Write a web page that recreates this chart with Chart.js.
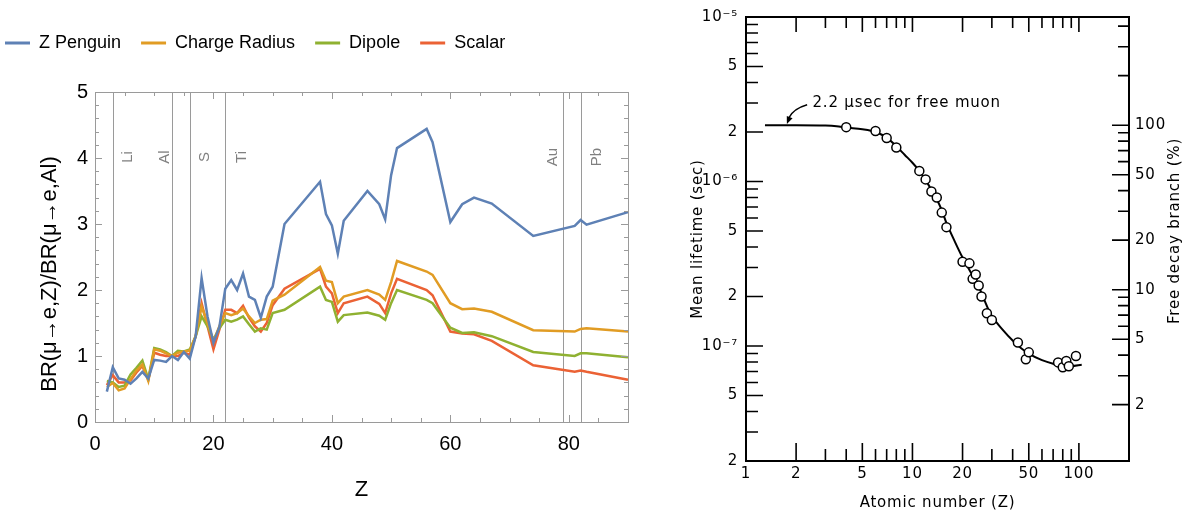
<!DOCTYPE html>
<html><head><meta charset="utf-8">
<script src="https://cdn.jsdelivr.net/npm/chart.js@4.4.1/dist/chart.umd.min.js"></script>
<style>
html,body{margin:0;padding:0;background:#fff;width:1183px;height:513px;overflow:hidden;position:relative}
#w1{position:absolute;left:-15px;top:0;width:665px;height:513px}
#w2{position:absolute;left:680px;top:0;width:503px;height:513px}
</style></head><body>
<div id="w1"><canvas id="c1"></canvas></div>
<div id="w2"><canvas id="c2"></canvas></div>
<script>
// ---------- Left chart data ----------
const zValues = [2,3,4,5,6,7,8,9,10,11,12,13,14,15,16,17,18,19,20,21,22,23,24,25,26,27,28,29,30,32,38,39,40,41,42,46,48,49,50,51,56,57,60,62,64,67,74,81,82,83,90];
const zPenguin = [0.46,0.83,0.66,0.64,0.58,0.66,0.76,0.66,0.94,0.93,0.91,1.0,0.94,1.06,0.96,1.3,2.18,1.6,1.2,1.44,2.02,2.15,2.0,2.25,1.9,1.85,1.58,1.9,2.05,3.0,3.64,3.15,2.98,2.55,3.05,3.5,3.3,3.07,3.74,4.15,4.44,4.24,3.03,3.3,3.4,3.31,2.82,2.97,3.06,2.99,3.18];
const chargeRadius = [0.53,0.59,0.48,0.51,0.65,0.78,0.87,0.62,1.1,1.08,1.04,1.0,1.05,1.07,1.08,1.3,1.75,1.5,1.22,1.45,1.65,1.62,1.65,1.72,1.6,1.5,1.55,1.56,1.84,1.93,2.35,2.14,2.12,1.8,1.9,2.0,1.93,1.85,2.12,2.44,2.28,2.23,1.8,1.71,1.72,1.67,1.39,1.37,1.41,1.42,1.37];
const dipole = [0.62,0.6,0.53,0.55,0.72,0.82,0.93,0.65,1.12,1.1,1.06,1.0,1.08,1.07,1.1,1.3,1.6,1.45,1.25,1.42,1.55,1.52,1.55,1.6,1.48,1.37,1.42,1.4,1.65,1.7,2.05,1.85,1.82,1.52,1.62,1.66,1.61,1.55,1.8,2.0,1.85,1.8,1.43,1.35,1.36,1.3,1.06,1.0,1.04,1.04,0.98];
const scalar = [0.56,0.71,0.6,0.6,0.63,0.75,0.85,0.64,1.05,1.02,1.0,1.0,1.0,1.05,1.02,1.3,1.8,1.45,1.1,1.4,1.7,1.7,1.65,1.76,1.58,1.45,1.37,1.5,1.77,2.02,2.32,2.05,1.95,1.65,1.8,1.9,1.79,1.65,1.95,2.17,2.0,1.92,1.37,1.34,1.33,1.23,0.86,0.76,0.78,0.76,0.64];
const seriesNames = ['Z Penguin','Charge Radius','Dipole','Scalar'];
const elementNames = ['Li','Al','S','Ti','Au','Pb'];
const elementZ = [3,13,16,22,79,82];
const leftXTicks = [0,20,40,60,80];
const leftYTicks = [0,1,2,3,4,5];
const leftYTitle = 'BR(\u03BC\u2192e,Z)/BR(\u03BC\u2192e,Al)';

// ---------- Right chart data ----------
const muZ = [4,6,7,8,11,12,13,14,15,16,20,22,23,24,25,26,28,30,43,48,50,75,80,84,87,96];
const muLifetime = [2.14e-6,2.03e-6,1.84e-6,1.61e-6,1.16e-6,1.03e-6,0.87e-6,0.80e-6,0.647e-6,0.528e-6,0.325e-6,0.318e-6,0.256e-6,0.272e-6,0.233e-6,0.200e-6,0.158e-6,0.144e-6,0.105e-6,0.083e-6,0.0915e-6,0.0795e-6,0.0743e-6,0.081e-6,0.0753e-6,0.087e-6];
const fitZ = [1.3,2,3,3.5,4,5,6,7,8,9,10,11,12,13,14,15,16,18,20,22,25,28,30,35,40,45,50,60,70,80,90,104];
const fitLifetime = [2.2e-6,2.2e-6,2.19e-6,2.17e-6,2.13e-6,2.08e-6,2.0e-6,1.85e-6,1.64e-6,1.45e-6,1.3e-6,1.16e-6,1.02e-6,0.89e-6,0.78e-6,0.67e-6,0.56e-6,0.43e-6,0.345e-6,0.29e-6,0.23e-6,0.175e-6,0.152e-6,0.125e-6,0.108e-6,0.097e-6,0.09e-6,0.082e-6,0.078e-6,0.076e-6,0.0755e-6,0.077e-6];
const freeMuonLifetime = 2.2e-6;
const atomicTicks = [1,2,5,10,20,50,100];
const lifetimeTicks = [2e-8,5e-8,1e-7,2e-7,5e-7,1e-6,2e-6,5e-6,1e-5];
const lifetimeTickLabels = ['2','5','10\u207B\u2077','2','5','10\u207B\u2076','2','5','10\u207B\u2075'];
const branchTicks = [2,5,10,20,50,100];
const annotationText = '2.2 \u03BCsec for free muon';
const annotationTextAt = [2.51, 3.0e-6];
const arrowFrom = [2.33, 2.93e-6];
const arrowTip = [1.76, 2.24e-6];

// ---------- Left chart ----------
const LF = 'Liberation Sans, Arial, sans-serif';
const colors = ['#5E81B5','#E19C24','#8FB131','#EB6235'];
const seriesValues = [zPenguin, chargeRadius, dipole, scalar];
const elementLabelOffset = [14,-8,14,16,-11,15];

const leftPlugin = {
  id: 'leftDeco',
  beforeDatasetsDraw(chart) {
    const {ctx, chartArea: a, scales: {x}} = chart;
    ctx.save();
    ctx.strokeStyle = '#9a9a9a'; ctx.lineWidth = 1;
    ctx.fillStyle = '#808080';
    ctx.font = '15px ' + LF;
    ctx.textAlign = 'center'; ctx.textBaseline = 'middle';
    elementZ.forEach((z, i) => {
      const px = Math.round(x.getPixelForValue(z)) + 0.5;
      ctx.beginPath(); ctx.moveTo(px, a.top); ctx.lineTo(px, a.bottom); ctx.stroke();
      ctx.save();
      ctx.translate(px + elementLabelOffset[i], a.top + 65);
      ctx.rotate(-Math.PI / 2);
      ctx.fillText(elementNames[i], 0, 0);
      ctx.restore();
    });
    ctx.restore();
  },
  afterDatasetsDraw(chart) {
    const {ctx, chartArea: a, scales: {x, y}} = chart;
    ctx.save();
    ctx.strokeStyle = '#9a9a9a'; ctx.lineWidth = 1;
    ctx.strokeRect(Math.round(a.left) + 0.5, Math.round(a.top) + 0.5, Math.round(a.right - a.left), Math.round(a.bottom - a.top));
    ctx.beginPath();
    for (let v = 0; v <= 90; v += 5) {
      const px = Math.round(x.getPixelForValue(v)) + 0.5;
      const L = v % 20 === 0 ? 7 : 4;
      ctx.moveTo(px, a.bottom); ctx.lineTo(px, a.bottom - L);
      ctx.moveTo(px, a.top); ctx.lineTo(px, a.top + L);
    }
    for (let k = 0; k <= 25; k++) {
      const v = k * 0.2;
      const py = Math.round(y.getPixelForValue(v)) + 0.5;
      const L = k % 5 === 0 ? 7 : 4;
      ctx.moveTo(a.left, py); ctx.lineTo(a.left + L, py);
      ctx.moveTo(a.right, py); ctx.lineTo(a.right - L, py);
    }
    ctx.stroke();
    ctx.restore();
  },
  afterDraw(chart) {
    const {ctx, chartArea: a} = chart;
    ctx.save();
    ctx.fillStyle = '#000';
    ctx.font = '22px ' + LF;
    ctx.textAlign = 'center'; ctx.textBaseline = 'middle';
    ctx.translate(65, (a.top + a.bottom) / 2 + 17);
    ctx.rotate(-Math.PI / 2);
    ctx.fillText(leftYTitle, 0, 0);
    ctx.restore();
  }
};

new Chart(document.getElementById('c1'), {
  type: 'line',
  data: {
    datasets: seriesNames.map((name, i) => ({
      label: name,
      data: zValues.map((z, j) => ({x: z, y: seriesValues[i][j]})),
      borderColor: colors[i], backgroundColor: colors[i],
      borderWidth: 2.5, pointRadius: 0, tension: 0, fill: false
    }))
  },
  options: {
    animation: false, responsive: true, maintainAspectRatio: false,
    layout: {padding: {top: 14, right: 22, left: 0, bottom: 0}},
    plugins: {
      tooltip: {enabled: false},
      legend: {
        display: true, position: 'top', align: 'start',
        labels: {
          boxWidth: 25, boxHeight: 3, padding: 20, color: '#000',
          font: {size: 18, family: LF},
          generateLabels: (ch) => ch.data.datasets.map((d, i) => ({
            text: d.label, fillStyle: d.borderColor, strokeStyle: d.borderColor,
            lineWidth: 0, hidden: false, datasetIndex: i, fontColor: '#000'
          }))
        }
      }
    },
    scales: {
      xTop: {
        type: 'linear', position: 'top', display: true,
        ticks: {display: false}, grid: {display: false, drawTicks: false}, border: {display: false},
        afterFit: s => { s.height = 30; }
      },
      x: {
        type: 'linear', min: 0, max: 90,
        afterBuildTicks: s => { s.ticks = leftXTicks.map(v => ({value: v})); },
        grid: {display: false, drawTicks: false}, border: {display: false},
        ticks: {color: '#000', font: {size: 20, family: LF}, padding: 10, maxRotation: 0, autoSkip: false},
        title: {display: true, text: 'Z', color: '#000', font: {size: 22, family: LF}, padding: {top: 0, bottom: 10}},
        afterFit: s => { s.height = 91; }
      },
      y: {
        type: 'linear', min: 0, max: 5,
        afterBuildTicks: s => { s.ticks = leftYTicks.map(v => ({value: v})); },
        grid: {display: false, drawTicks: false}, border: {display: false},
        ticks: {color: '#000', font: {size: 20, family: LF}, padding: 7, autoSkip: false},
        title: {display: false},
        afterFit: s => { s.width = 110; }
      }
    }
  },
  plugins: [leftPlugin]
});

// ---------- Right chart ----------
const RF = 'DejaVu Sans, sans-serif';
function logTicks(min, max) {
  const out = [];
  for (let e = Math.floor(Math.log10(min)); e <= Math.ceil(Math.log10(max)); e++) {
    for (let m = 1; m <= 9; m++) {
      const v = m * Math.pow(10, e);
      if (v >= min * 0.9999 && v <= max * 1.0001) out.push(v);
    }
  }
  return out;
}
function near(v, list) { return list.some(t => Math.abs(t - v) / t < 1e-6); }

const rightPlugin = {
  id: 'rightDeco',
  beforeDraw(chart) { chart.ctx.letterSpacing = '0.8px'; },
  afterDatasetsDraw(chart) {
    const {ctx, chartArea: a, scales: {x, y, y2}} = chart;
    ctx.save();
    ctx.strokeStyle = '#000'; ctx.lineWidth = 1.6;
    ctx.beginPath();
    logTicks(1, x.max).forEach(v => {
      const px = x.getPixelForValue(v);
      if (px <= a.left + 1 || px >= a.right - 1) return;
      const major = near(v, atomicTicks);
      ctx.moveTo(px, a.bottom); ctx.lineTo(px, a.bottom - (major ? 18 : 12));
      ctx.moveTo(px, a.top); ctx.lineTo(px, a.top + (major ? 15 : 11));
    });
    logTicks(y.min, y.max).forEach(v => {
      const py = y.getPixelForValue(v);
      if (py <= a.top + 1 || py >= a.bottom - 1) return;
      const major = near(v, lifetimeTicks);
      ctx.moveTo(a.left, py); ctx.lineTo(a.left + (major ? 17 : 12), py);
    });
    logTicks(2, y2.max).forEach(v => {
      const py = y2.getPixelForValue(v);
      if (py <= a.top + 1 || py >= a.bottom - 1) return;
      const major = near(v, branchTicks);
      ctx.moveTo(a.right, py); ctx.lineTo(a.right - (major ? 17 : 11), py);
    });
    ctx.stroke();
    ctx.lineWidth = 2;
    ctx.strokeRect(a.left, a.top, a.right - a.left, a.bottom - a.top);

    // annotation
    ctx.fillStyle = '#000';
    ctx.font = '15px ' + RF;
    ctx.textAlign = 'left'; ctx.textBaseline = 'middle';
    ctx.fillText(annotationText, x.getPixelForValue(annotationTextAt[0]), y.getPixelForValue(annotationTextAt[1]));
    const fx = x.getPixelForValue(arrowFrom[0]), fy = y.getPixelForValue(arrowFrom[1]);
    const tx = x.getPixelForValue(arrowTip[0]), ty = y.getPixelForValue(arrowTip[1]);
    ctx.lineWidth = 1.4;
    ctx.beginPath();
    ctx.moveTo(fx, fy);
    ctx.quadraticCurveTo(fx - 14, fy + 4, tx + 2, ty - 6);
    ctx.stroke();
    const ang = Math.atan2(ty - (fy + 4), tx - (fx - 14));
    ctx.beginPath();
    ctx.moveTo(tx, ty);
    ctx.lineTo(tx - 8 * Math.cos(ang - 0.4), ty - 8 * Math.sin(ang - 0.4));
    ctx.lineTo(tx - 8 * Math.cos(ang + 0.4), ty - 8 * Math.sin(ang + 0.4));
    ctx.closePath(); ctx.fill();

    // right axis title
    ctx.save();
    ctx.translate(y2.right - 8, (a.top + a.bottom) / 2 - 8);
    ctx.rotate(-Math.PI / 2);
    ctx.textAlign = 'center';
    ctx.fillText('Free decay branch (%)', 0, 0);
    ctx.restore();
    ctx.restore();
  }
};

new Chart(document.getElementById('c2'), {
  type: 'line',
  data: {
    datasets: [
      {
        label: 'Measured', data: muZ.map((z, i) => ({x: z, y: muLifetime[i]})),
        showLine: false, pointRadius: 4.5, pointBackgroundColor: '#fff',
        pointBorderColor: '#000', pointBorderWidth: 1.5, yAxisID: 'y'
      },
      {
        label: 'Fit', data: fitZ.map((z, i) => ({x: z, y: fitLifetime[i]})),
        borderColor: '#000', borderWidth: 2, pointRadius: 0,
        cubicInterpolationMode: 'monotone', fill: false, yAxisID: 'y'
      }
    ]
  },
  options: {
    animation: false, responsive: true, maintainAspectRatio: false,
    layout: {padding: {top: 12, right: 0, left: 0, bottom: 0}},
    plugins: {legend: {display: false}, tooltip: {enabled: false}},
    scales: {
      x: {
        type: 'logarithmic', min: 1, max: 200,
        afterBuildTicks: s => { s.ticks = atomicTicks.map(v => ({value: v})); },
        grid: {display: false, drawTicks: false}, border: {display: false},
        ticks: {color: '#000', font: {size: 15, family: RF}, padding: 4, maxRotation: 0, autoSkip: false,
                callback: (v, i) => String(atomicTicks[i])},
        title: {display: true, text: 'Atomic number (Z)', color: '#000', font: {size: 15, family: RF}, padding: {top: 0, bottom: 1}},
        afterFit: s => { s.height = 52; }
      },
      y: {
        type: 'logarithmic', position: 'left', min: 2e-8, max: 1e-5,
        afterBuildTicks: s => { s.ticks = lifetimeTicks.map(v => ({value: v})); },
        grid: {display: false, drawTicks: false}, border: {display: false},
        ticks: {color: '#000', font: {size: 15, family: RF}, padding: 8, autoSkip: false,
                callback: (v, i) => lifetimeTickLabels[i]},
        title: {display: true, text: 'Mean lifetime (sec)', color: '#000', font: {size: 15, family: RF}, padding: {top: 9, bottom: 0}},
        afterFit: s => { s.width = 66; }
      },
      y2: {
        type: 'logarithmic', position: 'right',
        min: 2e-8 / freeMuonLifetime * 100, max: 1e-5 / freeMuonLifetime * 100,
        afterBuildTicks: s => { s.ticks = branchTicks.map(v => ({value: v})); },
        grid: {display: false, drawTicks: false}, border: {display: false},
        ticks: {color: '#000', font: {size: 15, family: RF}, padding: 6, autoSkip: false,
                callback: (v, i) => String(branchTicks[i])},
        afterFit: s => { s.width = 54; }
      }
    }
  },
  plugins: [rightPlugin]
});
</script>
</body></html>
